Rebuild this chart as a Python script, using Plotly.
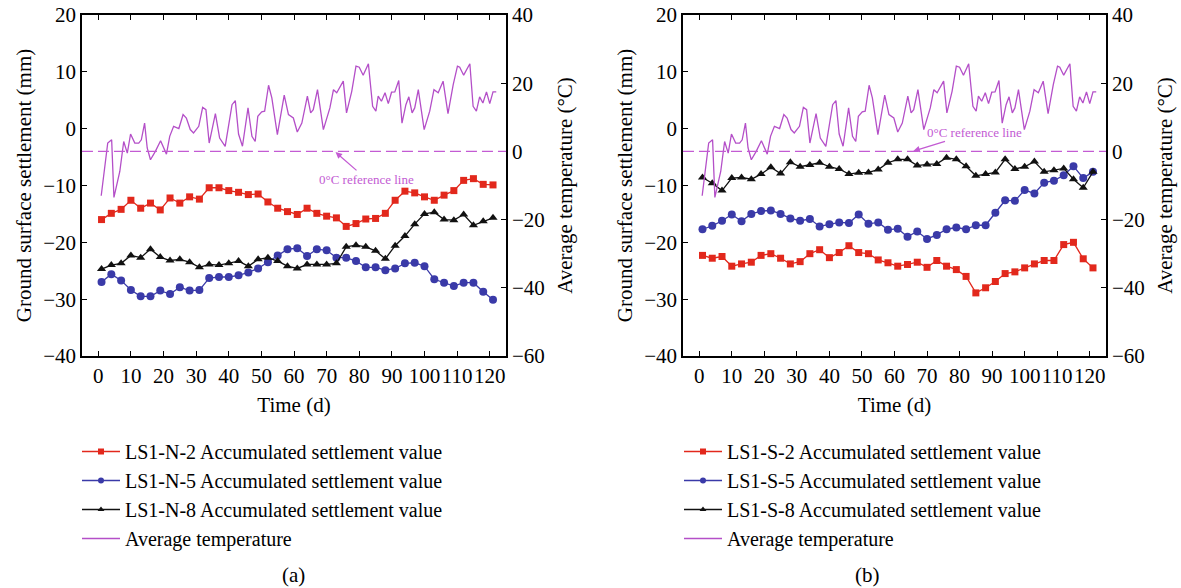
import plotly.graph_objects as go

# ---------------- data ----------------
marker_days = [1 + 3 * k for k in range(41)]

n2 = [-16.0, -14.9, -14.2, -12.6, -14.0, -13.1, -14.3, -12.2, -13.1, -12.0, -12.4,
      -10.4, -10.4, -10.9, -11.2, -11.6, -11.5, -12.9, -14.0, -14.6, -15.1, -14.0,
      -14.9, -15.4, -15.7, -17.2, -16.7, -15.9, -15.8, -14.9, -12.6, -11.0, -11.3,
      -12.0, -12.6, -11.7, -10.9, -9.1, -8.8, -9.8, -9.9]
n5 = [-27.0, -25.6, -26.7, -28.4, -29.5, -29.5, -28.5, -29.1, -27.9, -28.5, -28.4,
      -26.3, -26.1, -26.1, -25.8, -25.3, -24.6, -23.5, -22.3, -21.2, -21.05, -22.4,
      -21.2, -21.4, -22.7, -22.7, -23.3, -24.4, -24.4, -24.9, -24.6, -23.7, -23.6,
      -24.2, -26.5, -27.1, -27.7, -27.1, -27.1, -28.7, -30.1]
n8 = [-24.7, -24.0, -23.7, -22.3, -22.7, -21.2, -22.6, -23.2, -23.0, -23.5, -24.4,
      -23.9, -24.0, -23.7, -23.3, -24.2, -23.0, -22.7, -23.3, -24.2, -24.6, -23.9,
      -23.9, -23.9, -23.7, -20.8, -20.5, -20.8, -21.5, -22.9, -20.6, -18.9, -16.8,
      -15.0, -14.7, -16.0, -16.1, -15.1, -17.0, -16.3, -15.7]

s2 = [-22.3, -22.8, -22.5, -24.2, -23.8, -23.5, -22.3, -22.0, -22.8, -23.8, -23.4,
      -22.0, -21.3, -22.7, -21.8, -20.6, -21.8, -22.0, -23.1, -23.6, -24.2, -23.9,
      -23.5, -24.4, -23.2, -24.2, -24.8, -26.0, -28.9, -28.0, -26.9, -25.5, -25.2,
      -24.5, -23.8, -23.2, -23.2, -20.4, -20.0, -22.9, -24.5]
s5 = [-17.7, -17.1, -16.2, -15.1, -16.3, -15.0, -14.5, -14.4, -15.0, -15.8, -16.2,
      -15.9, -17.2, -16.8, -16.5, -16.6, -15.1, -16.75, -16.5, -17.8, -17.6, -19.0,
      -18.1, -19.4, -18.7, -17.7, -17.4, -17.7, -17.0, -17.0, -14.8, -12.6, -12.7,
      -10.8, -11.4, -9.5, -9.15, -8.2, -6.6, -8.7, -7.6]
s8 = [-8.6, -9.6, -10.9, -8.7, -8.6, -8.9, -8.0, -6.8, -7.9, -5.9, -6.7,
      -6.4, -6.0, -6.7, -7.1, -8.0, -7.75, -7.7, -7.2, -6.0, -5.4, -5.4,
      -6.5, -6.3, -6.2, -5.1, -5.4, -6.6, -8.3, -8.0, -7.7, -5.4, -7.1,
      -6.7, -5.8, -7.6, -7.3, -7.0, -8.9, -10.4, -7.6]

temp_days = [0.9, 2.9, 4.1, 4.8, 6.6, 7.8, 8.9, 9.9, 11.2, 12.4, 13.2, 14.2, 15.0,
             16.0, 17.5, 19.1, 20.9, 21.9, 23.1, 24.7, 26.0, 27.0, 28.2, 29.2, 30.8,
             32.0, 33.0, 34.0, 35.9, 37.2, 38.9, 41.0, 42.0, 43.0, 44.2, 45.9, 47.1,
             48.1, 48.9, 50.1, 51.0, 52.2, 53.2, 54.9, 57.0, 58.3, 59.8, 61.0, 62.4,
             64.1, 65.1, 65.9, 67.2, 69.0, 71.0, 72.1, 73.1, 75.1, 76.1, 77.7, 79.0,
             80.0, 81.2, 82.8, 84.1, 85.1, 85.8, 86.8, 87.9, 88.9, 89.9, 90.9, 92.1,
             93.1, 94.3, 95.2, 96.2, 97.0, 98.1, 99.9, 101.6, 102.9, 104.2, 105.7,
             107.2, 108.8, 110.1, 110.8, 112.0, 113.9, 114.9, 115.9, 116.9, 117.9,
             119.0, 120.0, 121.0, 122.0]
temp_vals = [-13.0, 2.45, 3.4, -13.5, -5.9, 2.9, -0.5, 5.1, 2.45, 2.45, 3.4, 8.3, 1.0,
             -2.45, 0.0, 3.1, -0.8, 4.4, 7.35, 6.7, 10.8, 9.8, 6.4, 5.4, 7.35,
             12.9, 12.25, 2.45, 11.1, 3.9, 1.5, 13.7, 14.9, 5.1, 1.5, 12.75, 4.4,
             2.9, 10.3, 11.6, 11.8, 19.4, 15.7, 4.9, 16.5, 10.8, 9.8, 5.7, 8.3,
             16.2, 11.3, 12.25, 18.1, 6.4, 12.75, 18.1, 17.2, 20.6, 11.3, 17.6, 25.0,
             24.7, 22.35, 25.7, 13.2, 11.8, 16.2, 14.7, 17.2, 14.0, 17.35, 17.45, 20.8,
             8.3, 13.7, 16.0, 11.3, 12.75, 18.1, 6.4, 11.8, 18.1, 17.2, 20.6,
             11.1, 19.6, 25.0, 24.7, 22.35, 25.7, 13.2, 11.8, 16.0, 14.2,
             17.45, 14.0, 17.45, 17.45]

x_ticks = list(range(0, 121, 10))
settle_ticks = [-40, -30, -20, -10, 0, 10, 20]
temp_ticks = [-60, -40, -20, 0, 20, 40]

# ---------------- styling ----------------
FONT = "Liberation Serif"
RED, BLUE, BLACK, PURPLE = "#e2281c", "#3a3aa8", "#111111", "#b44fc8"
FS = 21
LFS = 20

fig = go.Figure()

panels = [
    dict(x="x", y="y", y2="y2", legend="legend",
         names=["LS1-N-2 Accumulated settlement value", "LS1-N-5 Accumulated settlement value",
                "LS1-N-8 Accumulated settlement value"],
         series=[n2, n5, n8]),
    dict(x="x2", y="y3", y2="y4", legend="legend2",
         names=["LS1-S-2 Accumulated settlement value", "LS1-S-5 Accumulated settlement value",
                "LS1-S-8 Accumulated settlement value"],
         series=[s2, s5, s8]),
]
styles = [(RED, "square", 7), (BLUE, "circle", 8), (BLACK, "triangle-up", 8)]

for p in panels:
    fig.add_trace(go.Scatter(x=temp_days, y=temp_vals, mode="lines",
                             line=dict(color=PURPLE, width=1.3), showlegend=False,
                             xaxis=p["x"], yaxis=p["y2"]))
    for i, vals in enumerate(p["series"]):
        c, sym, sz = styles[i]
        fig.add_trace(go.Scatter(x=marker_days, y=vals, mode="lines+markers",
                                 line=dict(color=c, width=1.3),
                                 marker=dict(symbol=sym, size=sz, color=c),
                                 showlegend=False, xaxis=p["x"], yaxis=p["y"]))
    # legend entries (small symbols, like the reference legend)
    for i, name in enumerate(p["names"]):
        c, sym, sz = styles[i]
        fig.add_trace(go.Scatter(x=[None], y=[None], mode="lines+markers",
                                 line=dict(color=c, width=1.3),
                                 marker=dict(symbol=sym, size=6, color=c),
                                 name=name, xaxis=p["x"], yaxis=p["y"],
                                 legend=p["legend"], legendrank=i + 1))
    fig.add_trace(go.Scatter(x=[None], y=[None], mode="lines",
                             line=dict(color=PURPLE, width=1.3),
                             name="Average temperature", xaxis=p["x"], yaxis=p["y2"],
                             legend=p["legend"], legendrank=4))

def xax(domain, anchor):
    return dict(domain=domain, anchor=anchor, range=[-5, 125], tickvals=x_ticks,
                tickangle=0,
                ticks="inside", ticklen=5, tickcolor="black", showline=True,
                linecolor="black", linewidth=1.5, mirror="ticks", showgrid=False,
                zeroline=False, tickfont=dict(family=FONT, size=FS, color="black"),
                title=dict(text="Time (d)", font=dict(family=FONT, size=FS, color="black"),
                           standoff=10))

def yax(anchor):
    return dict(domain=[0.3946, 0.9745], anchor=anchor, range=[-40, 20],
                tickvals=settle_ticks, ticks="inside", ticklen=5, tickcolor="black",
                showline=True, linecolor="black", linewidth=1.5, showgrid=False,
                zeroline=False, tickfont=dict(family=FONT, size=FS, color="black"),
                title=dict(text="Ground surface settlement (mm)",
                           font=dict(family=FONT, size=FS, color="black"), standoff=6))

def y2ax(anchor, overlay):
    return dict(overlaying=overlay, side="right", anchor=anchor, range=[-60, 40],
                tickvals=temp_ticks, ticks="inside", ticklen=5, tickcolor="black",
                showline=True, linecolor="black", linewidth=1.5, showgrid=False,
                zeroline=False, tickfont=dict(family=FONT, size=FS, color="black"),
                title=dict(text="Average temperature (°C)",
                           font=dict(family=FONT, size=FS, color="black"), standoff=13))

legend_common = dict(font=dict(family=FONT, size=LFS, color="black"),
                     bgcolor="rgba(0,0,0,0)", yanchor="top", y=1 - 432 / 588,
                     xanchor="left", traceorder="normal", itemwidth=38)

fig.update_layout(
    width=1181, height=588,
    margin=dict(l=0, r=0, t=0, b=0, autoexpand=False),
    paper_bgcolor="white", plot_bgcolor="white",
    xaxis=xax([0.0694, 0.4285], "y"),
    yaxis=yax("x"),
    yaxis2=y2ax("x", "y"),
    xaxis2=xax([0.5783, 0.9365], "y3"),
    yaxis3=yax("x2"),
    yaxis4=y2ax("x2", "y3"),
    legend=dict(x=77 / 1181, **legend_common),
    legend2=dict(x=679 / 1181, **legend_common),
    showlegend=True,
)

# 0 °C reference lines
for xr, yr in [("x", "y2"), ("x2", "y4")]:
    fig.add_shape(type="line", xref=f"{xr} domain", yref=yr, x0=0, x1=1, y0=0, y1=0,
                  line=dict(color="#c35bd3", width=1.3, dash="11px,5px"))

ann_font = dict(family=FONT, size=13, color="#c35bd3")
fig.add_annotation(x=72.5, y=0, xref="x", yref="y2", text="0°C reference line",
                   showarrow=True, ax=32, ay=28,
                   font=ann_font, arrowcolor="#c35bd3", arrowhead=2, arrowsize=1,
                   arrowwidth=1.3, standoff=1)
fig.add_annotation(x=65.5, y=0, xref="x2", yref="y4", text="0°C reference line",
                   showarrow=True, ax=62, ay=-19, font=ann_font, arrowcolor="#c35bd3",
                   arrowhead=2, arrowsize=1, arrowwidth=1.3, standoff=1)

for lbl, xp in [("(a)", 280 / 1181), ("(b)", 882 / 1181)]:
    fig.add_annotation(x=xp, y=1 - 575 / 588, xref="paper", yref="paper", text=lbl,
                       yanchor="middle", showarrow=False,
                       font=dict(family=FONT, size=FS, color="black"))

fig.write_html("out.html")
